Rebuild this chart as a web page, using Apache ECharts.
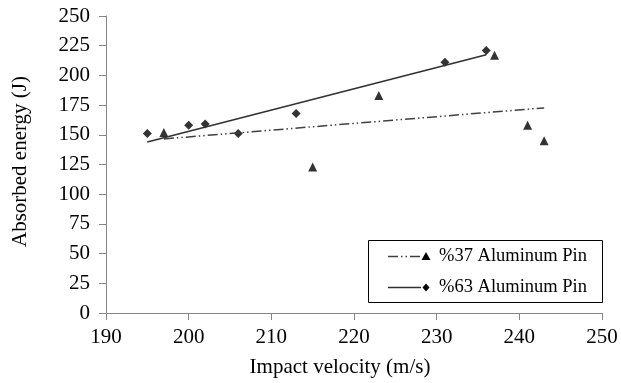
<!DOCTYPE html>
<html>
<head>
<meta charset="utf-8">
<script src="https://cdn.jsdelivr.net/npm/echarts@6/dist/echarts.min.js"></script>
<style>
  html, body { margin: 0; padding: 0; background: #fff; }
  #chart { width: 621px; height: 383px; }
</style>
</head>
<body>
<div id="chart"></div>
<script>
// %37 Aluminum Pin (triangles)
const vel37 = [197, 215, 223, 237, 241, 243];
const energy37 = [152, 123, 183, 217, 158, 145];
// %63 Aluminum Pin (diamonds)
const vel63 = [195, 200, 202, 206, 213, 231, 236];
const energy63 = [151, 158, 159, 151, 168, 211, 221];

const xTicks = [190, 200, 210, 220, 230, 240, 250];
const yTicks = [0, 25, 50, 75, 100, 125, 150, 175, 200, 225, 250];

const FONT = "'Liberation Serif', 'Times New Roman', serif";

// linear least squares trendline over the data's x range
function trend(xs, ys) {
  const n = xs.length;
  const mx = xs.reduce((a, b) => a + b, 0) / n;
  const my = ys.reduce((a, b) => a + b, 0) / n;
  let sxy = 0, sxx = 0;
  for (let i = 0; i < n; i++) {
    sxy += (xs[i] - mx) * (ys[i] - my);
    sxx += (xs[i] - mx) * (xs[i] - mx);
  }
  const k = sxy / sxx, b = my - k * mx;
  const x0 = Math.min(...xs), x1 = Math.max(...xs);
  return [[x0, k * x0 + b], [x1, k * x1 + b]];
}

const pts = (xs, ys) => xs.map((x, i) => [x, ys[i]]);
const dashDotDot = [10, 3, 1.5, 3, 1.5, 3];

const chart = echarts.init(document.getElementById('chart'));
chart.setOption({
  animation: false,
  backgroundColor: '#fff',
  grid: { left: 106, right: 19, top: 16, bottom: 66 },
  xAxis: {
    type: 'value',
    min: xTicks[0], max: xTicks[xTicks.length - 1], interval: 10,
    name: 'Impact velocity (m/s)',
    nameLocation: 'middle',
    nameGap: 44,
    nameTextStyle: { fontFamily: FONT, fontSize: 21, color: '#000', padding: [0, 28, 0, 0] },
    axisLine: { lineStyle: { color: '#868686', width: 1 } },
    axisTick: { inside: false, length: 7, lineStyle: { color: '#868686' } },
    axisLabel: { fontFamily: FONT, fontSize: 21, color: '#000', margin: 14 },
    splitLine: { show: false }
  },
  yAxis: {
    type: 'value',
    min: yTicks[0], max: yTicks[yTicks.length - 1], interval: 25,
    name: 'Absorbed energy (J)',
    nameLocation: 'middle',
    nameGap: 75,
    nameTextStyle: { fontFamily: FONT, fontSize: 21, color: '#000', padding: [0, 0, 0, 6] },
    axisLine: { show: true, lineStyle: { color: '#868686', width: 1 } },
    axisTick: { show: true, inside: false, length: 7, lineStyle: { color: '#868686' } },
    axisLabel: { fontFamily: FONT, fontSize: 21, color: '#000', margin: 16 },
    splitLine: { show: false }
  },
  series: [
    {
      name: '%37 trend', type: 'line', data: trend(vel37, energy37),
      showSymbol: false, silent: true,
      lineStyle: { color: '#404040', width: 1.5, type: dashDotDot }
    },
    {
      name: '%63 trend', type: 'line', data: trend(vel63, energy63),
      showSymbol: false, silent: true,
      lineStyle: { color: '#303030', width: 1.5 }
    },
    {
      name: '%37 Aluminum Pin', type: 'scatter', data: pts(vel37, energy37),
      symbol: 'triangle', symbolSize: 9, itemStyle: { color: '#000' }
    },
    {
      name: '%63 Aluminum Pin', type: 'scatter', data: pts(vel63, energy63),
      symbol: 'diamond', symbolSize: 9, itemStyle: { color: '#000' }
    }
  ],
  graphic: [
    { type: 'rect', shape: { x: 368.5, y: 240.5, width: 234, height: 62 },
      style: { fill: '#fff', stroke: '#000', lineWidth: 1 } },
    { type: 'line', shape: { x1: 388, y1: 256.5, x2: 421, y2: 256.5 },
      style: { stroke: '#404040', lineWidth: 1.5, lineDash: dashDotDot } },
    { type: 'polygon', shape: { points: [[426, 252], [430.5, 260], [421.5, 260]] },
      style: { fill: '#000' } },
    { type: 'text', style: { x: 439, y: 256.5, text: '%37 Aluminum Pin', font: '18.5px ' + FONT,
      fill: '#000', verticalAlign: 'middle' } },
    { type: 'line', shape: { x1: 388, y1: 287.5, x2: 421, y2: 287.5 },
      style: { stroke: '#303030', lineWidth: 1.5 } },
    { type: 'polygon', shape: { points: [[426, 283.5], [429.5, 287.5], [426, 291.5], [422.5, 287.5]] },
      style: { fill: '#000' } },
    { type: 'text', style: { x: 439, y: 287.5, text: '%63 Aluminum Pin', font: '18.5px ' + FONT,
      fill: '#000', verticalAlign: 'middle' } }
  ]
});
</script>
</body>
</html>
